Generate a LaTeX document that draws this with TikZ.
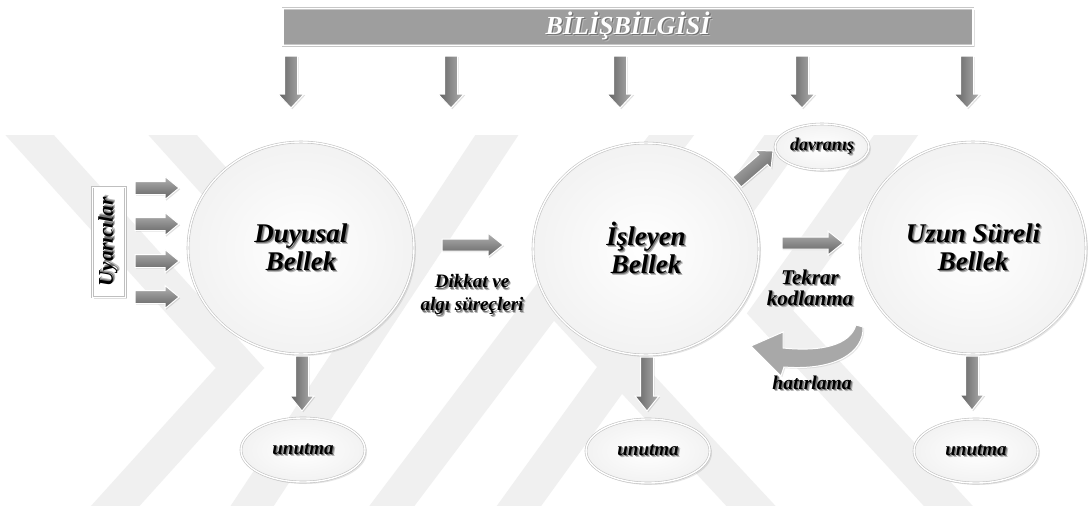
\documentclass[tikz,border=0pt]{standalone}
\usepackage{fontspec}
\setmainfont{Liberation Serif}
\usetikzlibrary{calc,shadows,shapes.geometric}

% text with a soft dark shadow: #1 shadow colour, #2 text colour, #3 text
\newcommand\txtsh[3]{\leavevmode
  \rlap{\kern2.2pt\raisebox{-2.2pt}{\textcolor{#1!28}{#3}}}%
  \rlap{\kern1.3pt\raisebox{-1.3pt}{\textcolor{#1!55}{#3}}}%
  \textcolor{#2}{#3}}
\newcommand\sh[1]{\txtsh{black}{black}{#1}}

% block arrow from #2 to #3: shaft half width #4, head half width #5, head length #6
\newcommand\blockarrow[6][]{%
  \coordinate (ba-q) at ($(#3)!#6!(#2)$);
  \path[#1] ($(#2)!#4!90:(#3)$) -- ($(ba-q)!#4!90:(#3)$) -- ($(ba-q)!#5!90:(#3)$)
    -- (#3) -- ($(ba-q)!#5!-90:(#3)$) -- ($(ba-q)!#4!-90:(#3)$)
    -- ($(#2)!#4!-90:(#3)$) -- cycle;}

\begin{document}
\begin{tikzpicture}[x=1pt,y=-1pt,
  wm/.style={draw=black!6, line width=36pt, line join=miter},
  mem/.style={ellipse, minimum width=226pt, minimum height=212pt, inner sep=0pt,
    inner color=white, outer color=black!5, draw=black!24, line width=0.6pt,
    double=white, double distance=1.4pt,
    drop shadow={shadow xshift=2pt, shadow yshift=-2pt, opacity=0.2},
    font=\fontsize{27}{28}\selectfont\bfseries\itshape, align=center},
  oval/.style={mem, minimum width=124pt, minimum height=64pt,
    font=\fontsize{19}{21}\selectfont\bfseries\itshape},
  lbl/.style={font=\fontsize{19}{23}\selectfont\bfseries\itshape, align=center, inner sep=0pt},
  barbox/.style={rectangle, fill=black!38, draw=black!22, line width=0.6pt,
    double=white, double distance=1.2pt, minimum width=690pt, minimum height=36pt,
    drop shadow={shadow xshift=1.5pt, shadow yshift=-1.5pt, opacity=0.25},
    font=\fontsize{26}{28}\selectfont\bfseries\itshape},
  uyarbox/.style={rectangle, fill=white, draw=black!25, line width=0.6pt,
    double=white, double distance=1pt, minimum width=110pt, minimum height=33pt, inner sep=0pt,
    drop shadow={shadow xshift=1.5pt, shadow yshift=-1.5pt, opacity=0.25},
    font=\fontsize{21}{23}\selectfont\bfseries\itshape},
  arrbase/.style={draw=white, line width=1pt,
    drop shadow={shadow xshift=1.2pt, shadow yshift=-1.2pt, opacity=0.25}},
  harr/.style={arrbase, top color=black!30, bottom color=black!62},
  varr/.style={arrbase, left color=black!62, right color=black!30},
  darr/.style={arrbase, top color=black!30, bottom color=black!62, shading angle=40},
  curvearr/.style={fill=black!34, draw=white, line width=1pt,
    drop shadow={shadow xshift=1.2pt, shadow yshift=-1.2pt, opacity=0.2}},
]
\useasboundingbox (0,0) rectangle (1088,509);
\fill[white] (0,0) rectangle (1088,509);

% faint diagonal bands in the background
\begin{scope}
  \clip (0,135) rectangle (1000,505);
  \draw[wm] (-2,100) -- (240,368) -- (89,535);
  \draw[wm] (141,100) -- (364,347);
  \draw[wm] (233,535) -- (520,100);
  \draw[wm] (370,535) -- (698,100);
  \draw[wm] (498,535) -- (812,100);
  \draw[wm] (550,290) -- (778,535);
  \draw[wm] (921,100) -- (770,312) -- (975,535);
\end{scope}

% heading bar
\node[barbox] (bar) at (628,27) {\txtsh{black}{white}{BİLİŞBİLGİSİ}};

% memory stores
\node[mem] (duy) at (301,248) {\sh{Duyusal}\\\sh{Bellek}};
\node[mem] (isl) at (646,249) {\sh{İşleyen}\\\sh{Bellek}};
\node[mem] (uzun) at (973,248) {\sh{Uzun Süreli}\\\sh{Bellek}};

% outcomes
\node[oval, minimum width=94pt, minimum height=46pt,
  font=\fontsize{18}{20}\selectfont\bfseries\itshape] (dav) at (822,147) {\sh{davranış}};
\node[oval] (un1) at (303,450) {\sh{unutma}};
\node[oval] (un2) at (648,451) {\sh{unutma}};
\node[oval] (un3) at (976,451) {\sh{unutma}};

% stimuli
\node[uyarbox, rotate=90] (uyar) at (109,242) {\sh{Uyarıcılar}};

% arrow labels
\node[lbl] (dikkat) at (472,296) {\sh{Dikkat ve}\\\sh{algı süreçleri}};
\node[lbl, font=\fontsize{21}{21}\selectfont\bfseries\itshape] (tekrar) at (810,289) {\sh{Tekrar}\\\sh{kodlanma}};
\node[lbl, font=\fontsize{19.5}{21}\selectfont\bfseries\itshape] (hatir) at (812,384) {\sh{hatırlama}};

% arrows from the heading bar
\foreach \i/\x in {1/291,2/451,3/620,4/802,5/967}{
  \coordinate (ta\i) at (\x,56);
  \coordinate (tb\i) at (\x,108);
  \blockarrow[varr]{ta\i}{tb\i}{6.5pt}{13pt}{14pt}
}

% stimulus arrows
\foreach \i/\y in {1/188,2/224,3/261,4/297}{
  \coordinate (sa\i) at (135,\y);
  \coordinate (sb\i) at (179,\y);
  \blockarrow[harr]{sa\i}{sb\i}{6.5pt}{11.5pt}{14pt}
}

% flow between the stores
\coordinate (da) at (442,245);
\coordinate (db) at (503,245);
\blockarrow[harr]{da}{db}{6pt}{12pt}{15pt}
\coordinate (ka) at (782,243);
\coordinate (kb) at (843,243);
\blockarrow[harr]{ka}{kb}{6pt}{12pt}{15pt}
\coordinate (va) at (737,182);
\coordinate (vb) at (773,151);
\blockarrow[darr]{va}{vb}{6.5pt}{12pt}{13pt}

% forgetting
\coordinate (d1a) at (302,356);
\coordinate (d1b) at (302,411);
\blockarrow[varr]{d1a}{d1b}{6.5pt}{12pt}{15pt}
\coordinate (d2a) at (647,357);
\coordinate (d2b) at (647,411);
\blockarrow[varr]{d2a}{d2b}{6.5pt}{12pt}{15pt}
\coordinate (d3a) at (972,356);
\coordinate (d3b) at (972,410);
\blockarrow[varr]{d3a}{d3b}{6.5pt}{12pt}{15pt}

% recall: curved arrow back to working memory
\path[curvearr] (863,327) .. controls (864,352) and (836,371) .. (784,367)
  -- (781,376) -- (751,346) -- (783,332) -- (783,348)
  .. controls (822,352) and (850,345) .. (856,325) -- cycle;
\end{tikzpicture}
\end{document}
